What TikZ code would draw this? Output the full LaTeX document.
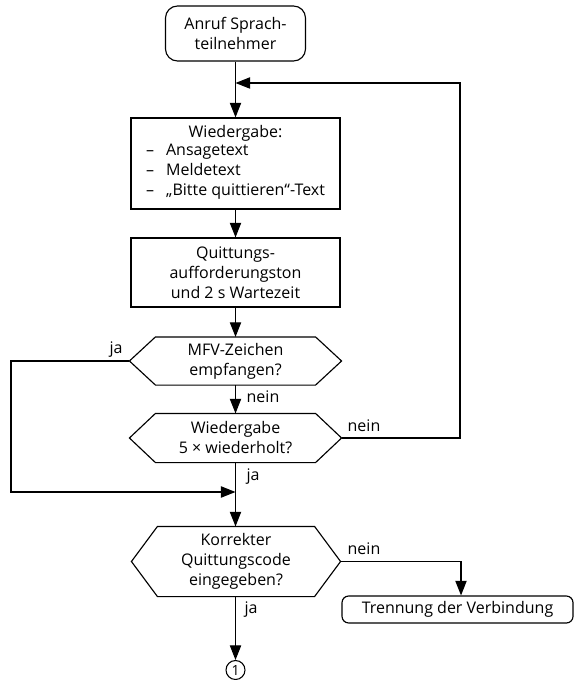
\documentclass[tikz,border=0pt]{standalone}
\usepackage{fontspec}
\setmainfont{Open Sans}
\usetikzlibrary{arrows.meta,calc}
\def\pxu{0.75pt}
\tikzset{
  base/.style={font=\fontsize{12}{15}\selectfont, align=center, inner sep=0pt, line width=0.85pt},
  roundbox/.style={base, draw, rounded corners=9pt},
  plainbox/.style={base, draw},
  hexnode/.style={base},
  lbl/.style={font=\fontsize{12}{12}\selectfont, inner sep=0pt},
  conn/.style={line width=0.85pt},
  arr/.style={conn, -{Triangle[length=11pt,width=8.5pt]}},
}
\newcommand\hexdraw[1]{%
  \draw[line width=0.85pt] (#1.west) -- ($(#1.north west)+(26,0)$) -- ($(#1.north east)+(-26,0)$)
    -- (#1.east) -- ($(#1.south east)+(-26,0)$) -- ($(#1.south west)+(26,0)$) -- cycle;}
\begin{document}
\begin{tikzpicture}[x=0.75pt,y=-0.75pt]
\useasboundingbox (0,0) rectangle (574,680);
\node[roundbox, minimum width=140*\pxu, minimum height=55*\pxu] (start) at (235.5,33.5) {Anruf Sprach-\\teilnehmer};
\node[plainbox, minimum width=209*\pxu, minimum height=91*\pxu] (play) at (235.5,163.5)
  {Wiedergabe:\\[-1pt]\begin{tabular}{@{}l@{\hspace{9pt}}l@{}}–&Ansagetext\\–&Meldetext\\–&„Bitte quittieren“-Text\end{tabular}};
\node[plainbox, minimum width=209*\pxu, minimum height=69*\pxu] (tone) at (235.5,272.5) {Quittungs-\\aufforderungston\\und 2 s Wartezeit};
\node[hexnode, minimum width=211*\pxu, minimum height=47*\pxu] (mfv) at (235.5,361) {MFV-Zeichen\\empfangen?};
\node[hexnode, minimum width=211*\pxu, minimum height=48*\pxu] (rep) at (235.5,438) {Wiedergabe\\5 × wiederholt?};
\node[hexnode, minimum width=208*\pxu, minimum height=69*\pxu] (code) at (236,561.5) {Korrekter\\Quittungscode\\eingegeben?};
\hexdraw{mfv}
\hexdraw{rep}
\hexdraw{code}
\node[roundbox, rounded corners=5pt, minimum width=231*\pxu, minimum height=27*\pxu] (stop) at (457.5,609.5) {Trennung der Verbindung};
\node[base, draw, circle, minimum size=19*\pxu, line width=0.8pt] (one) at (235.5,670) {\fontsize{10.5}{10.5}\selectfont 1};
% coordinates
\coordinate (j1) at (235.5,83);
\coordinate (j2) at (235.5,492);
\coordinate (rr) at (460,437);
\coordinate (ll) at (11,361);
\coordinate (sr) at (461,561.5);
% connectors
\draw[arr] (start.south) -- (play.north);
\draw[arr] (rep.east) -| (rr |- j1) -- (j1);
\draw[arr] (play.south) -- (tone.north);
\draw[arr] (tone.south) -- (mfv.north);
\draw[arr] (mfv.south) -- (rep.north);
\draw[arr] (mfv.west) -- (ll) |- (j2);
\draw[arr] (rep.south) -- (code.north -| rep.south);
\draw[arr] (code.east) -| (sr |- stop.north);
\draw[arr] (code.south -| one.north) -- (one.north);
% labels
\node[lbl] (l1) at (116,350) {ja};
\node[lbl] (l2) at (263,397) {nein};
\node[lbl] (l3) at (364,426) {nein};
\node[lbl] (l4) at (253,477) {ja};
\node[lbl] (l5) at (364,549) {nein};
\node[lbl] (l6) at (251,610) {ja};
\end{tikzpicture}
\end{document}
